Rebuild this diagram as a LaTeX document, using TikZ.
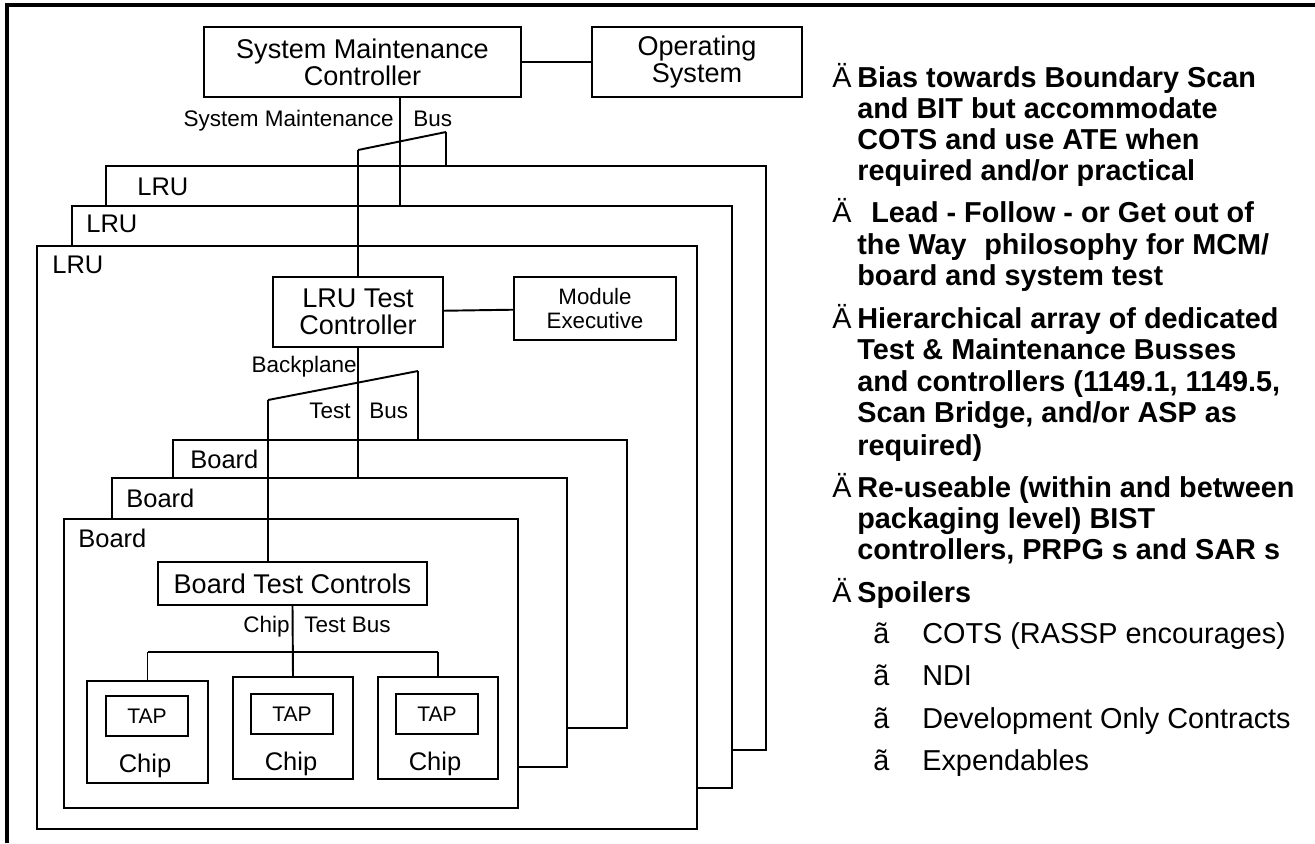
\documentclass[tikz,border=0pt]{standalone}
\usepackage{fontspec}
\setmainfont{Liberation Sans}
\newlength\pix
\setlength\pix{0.02cm}
\tikzset{
    frame/.style = {draw, line width=1.1pt, fill=white, inner sep=0pt},
    bus/.style = {line width=1.1pt},
    boxtext/.style = {font=\fontsize{15.4}{15.4}\selectfont, align=center},
    smalltext/.style = {font=\fontsize{12.7}{13.7}\selectfont, align=center},
    buslabel/.style = {font=\fontsize{12.8}{14}\selectfont, inner sep=0pt},
    levellabel/.style = {font=\fontsize{14.5}{16}\selectfont, inner sep=0pt, anchor=base west},
    point/.style = {font=\bfseries\fontsize{16.4}{18}\selectfont, inner sep=0pt, anchor=base west},
    bulletmark/.style = {font=\fontsize{16.4}{18}\selectfont, inner sep=0pt, anchor=base west},
    subpoint/.style = {font=\fontsize{16.4}{18}\selectfont, inner sep=0pt, anchor=base west}
}
\begin{document}
\begin{tikzpicture}[x=0.02cm, y=-0.02cm]
    \useasboundingbox (0,0) rectangle (1315,843);
    \draw[line width=1.8pt] (7,843) -- (7,5) -- (1315,5);

    % system level
    \node[frame, boxtext, minimum width=317\pix, minimum height=70\pix] (smc) at (362.5,62) {System Maintenance\\Controller};
    \node[frame, boxtext, minimum width=210\pix, minimum height=70\pix] (os) at (697,62) {Operating\\System};
    \draw[bus] (smc) -- (os);

    % three LRUs, back to front
    \node[frame, minimum width=660\pix, minimum height=584\pix] (lruA) at (436,458) {};
    \node[frame, minimum width=660\pix, minimum height=582\pix] (lruB) at (402,497) {};
    \node[frame, minimum width=660\pix, minimum height=583\pix] (lruC) at (367,537.5) {};
    \node[levellabel] (lruAlab) at (137,195) {LRU};
    \node[levellabel] (lruBlab) at (86,232) {LRU};
    \node[levellabel] (lruClab) at (52,273) {LRU};

    \node[frame, boxtext, minimum width=170\pix, minimum height=70\pix] (ltc) at (358,312) {LRU Test\\Controller};
    \node[frame, smalltext, minimum width=162\pix, minimum height=63\pix] (mex) at (595,308.5) {Module\\Executive};
    \draw[bus] (ltc) -- (mex);

    % system maintenance bus
    \coordinate (smbL) at (358,150);
    \coordinate (smbR) at (446,132);
    \coordinate (smtap) at (400,120);
    \draw[bus] (smbL) -- (smbR);
    \draw[bus] (smc.south -| smtap) -- (smtap |- lruB.north);
    \draw[bus] (smbR) -- (smbR |- lruA.north);
    \draw[bus] (smbL) -- (ltc.north);
    \node[buslabel, anchor=base east] (smblab) at (394,126) {System Maintenance};
    \node[buslabel, anchor=base west] (smbbus) at (413,126) {Bus};

    % three boards, back to front
    \node[frame, minimum width=454\pix, minimum height=288\pix] (boardA) at (400,584) {};
    \node[frame, minimum width=455\pix, minimum height=289\pix] (boardB) at (339.5,622.5) {};
    \node[frame, minimum width=454\pix, minimum height=289\pix] (boardC) at (291,663.5) {};
    \node[levellabel] (boardAlab) at (190,468) {Board};
    \node[levellabel] (boardBlab) at (126,507) {Board};
    \node[levellabel] (boardClab) at (78,547) {Board};

    \node[frame, boxtext, minimum width=269\pix, minimum height=43\pix] (btc) at (292.5,583.5) {Board Test Controls};

    % backplane test bus
    \coordinate (bpL) at (268,400);
    \coordinate (bpR) at (418,371);
    \draw[bus] (bpL) -- (bpR);
    \draw[bus] (ltc.south) -- (ltc.south |- boardB.north);
    \draw[bus] (bpR) -- (bpR |- boardA.north);
    \draw[bus] (bpL) -- (bpL |- btc.north);
    \node[buslabel, anchor=base east] (bplab) at (357,372) {Backplane};
    \node[buslabel, anchor=base east] (bptest) at (351,418) {Test};
    \node[buslabel, anchor=base west] (bpbus) at (369,418) {Bus};

    % chips
    \node[frame, minimum width=121\pix, minimum height=102\pix] (chipA) at (147.5,732) {};
    \node[frame, minimum width=120\pix, minimum height=102\pix] (chipB) at (293,728) {};
    \node[frame, minimum width=120\pix, minimum height=102\pix] (chipC) at (438,728) {};
    \node[frame, font=\fontsize{12}{13}\selectfont, minimum width=82\pix, minimum height=40\pix] (tapA) at (147,716) {TAP};
    \node[frame, font=\fontsize{12}{13}\selectfont, minimum width=82\pix, minimum height=40\pix] (tapB) at (292,714) {TAP};
    \node[frame, font=\fontsize{12}{13}\selectfont, minimum width=82\pix, minimum height=40\pix] (tapC) at (437,714) {TAP};
    \node[levellabel, anchor=base] (chipAlab) at (145,772) {Chip};
    \node[levellabel, anchor=base] (chipBlab) at (291,770) {Chip};
    \node[levellabel, anchor=base] (chipClab) at (435,770) {Chip};

    % chip test bus
    \coordinate (cbL) at (147.5,652);
    \coordinate (cbR) at (438,652);
    \draw[bus] (cbL) -- (cbR);
    \draw[bus] (btc.south) -- (chipB.north);
    \draw[bus] (cbL) -- (chipA.north);
    \draw[bus] (cbR) -- (chipC.north);
    \node[buslabel, anchor=base east] (cblab) at (290,632) {Chip};
    \node[buslabel, anchor=base west] (cbtest) at (304,632) {Test Bus};

    % approach notes
    \node[bulletmark] (dot1) at (832,87) {Ä};
    \node[point] (bias1) at (857,87) {Bias towards Boundary Scan};
    \node[point] (bias2) at (857,118) {and BIT but accommodate};
    \node[point] (bias3) at (857,149.5) {COTS and use ATE when};
    \node[point] (bias4) at (857,180) {required and/or practical};

    \node[bulletmark] (dot2) at (832,222.5) {Ä};
    \node[point] (lead1) at (871,222.5) {Lead - Follow - or Get out of};
    \node[point] (lead2) at (857,254) {the Way\hspace{10pt}philosophy for MCM/};
    \node[point] (lead3) at (857,285) {board and system test};

    \node[bulletmark] (dot3) at (832,328) {Ä};
    \node[point] (hier1) at (857,328) {Hierarchical array of dedicated};
    \node[point] (hier2) at (857,359.5) {Test \& Maintenance Busses};
    \node[point] (hier3) at (857,391) {and controllers (1149.1, 1149.5,};
    \node[point] (hier4) at (857,422) {Scan Bridge, and/or ASP as};
    \node[point] (hier5) at (857,455) {required)};

    \node[bulletmark] (dot4) at (832,497) {Ä};
    \node[point] (reuse1) at (857,497) {Re-useable (within and between};
    \node[point] (reuse2) at (857,528) {packaging level) BIST};
    \node[point] (reuse3) at (857,559) {controllers, PRPG s and SAR s};

    \node[bulletmark] (dot5) at (832,602.5) {Ä};
    \node[point] (spoil) at (857,602.5) {Spoilers};

    \node[subpoint] (sub1) at (873,643) {ã};
    \node[subpoint] (cots) at (922,643) {COTS (RASSP encourages)};
    \node[subpoint] (sub2) at (873,685) {ã};
    \node[subpoint] (ndi) at (922,685) {NDI};
    \node[subpoint] (sub3) at (873,728) {ã};
    \node[subpoint] (devonly) at (922,728) {Development Only Contracts};
    \node[subpoint] (sub4) at (873,770) {ã};
    \node[subpoint] (expend) at (922,770) {Expendables};
\end{tikzpicture}
\end{document}
